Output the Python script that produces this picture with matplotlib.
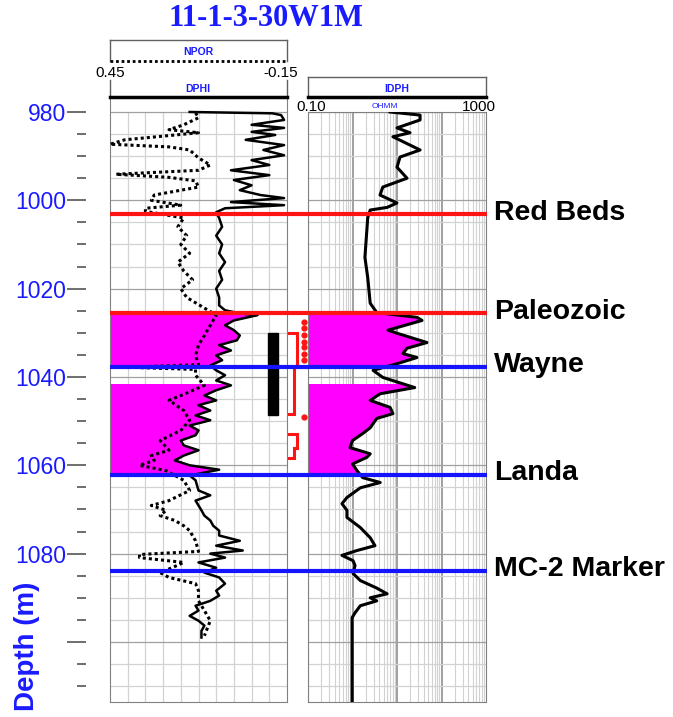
import numpy as np
import matplotlib
matplotlib.use('Agg')
import matplotlib.pyplot as plt
from matplotlib.patches import Rectangle
from matplotlib.ticker import NullLocator

plt.rcParams['font.family'] = ['Liberation Sans', 'DejaVu Sans']

well_name = '11-1-3-30W1M'

# density porosity DPHI (solid), fraction
dphi_depth = [980.0, 980.3, 980.7, 981.8, 982.9, 983.6, 984.5, 985.2, 986.3, 987.5,
              988.6, 989.8, 990.9, 992.0, 993.2, 994.3, 995.4, 996.6, 997.7, 998.8,
              999.5, 1000.4, 1001.1, 1001.8, 1002.7,
              1004, 1006, 1008, 1010, 1012, 1014, 1016, 1018, 1020, 1022,
              1023.8, 1024.9, 1025.6, 1026.0, 1027.2, 1028.3, 1029.4, 1030.6, 1031.7, 1032.8,
              1034.0, 1035.1, 1036.2, 1037.4, 1038.5, 1039.6, 1040.8, 1041.9, 1043.0, 1044.2,
              1045.3, 1046.4, 1047.6, 1048.7, 1049.8, 1051.0, 1052.1, 1053.2, 1054.4, 1055.5,
              1056.6, 1057.8, 1058.9, 1060.0, 1061.0, 1062.3, 1063.4, 1065.7, 1066.8,
              1068.0, 1069.1, 1070.2, 1071.4, 1072.5, 1073.7, 1074.8, 1075.9, 1077.1, 1078.2,
              1079.3, 1080.0, 1080.9, 1082.0, 1083.2, 1084.3, 1085.4, 1086.8, 1088.4, 1089.5,
              1090.7, 1091.8, 1092.9, 1094.1, 1095.2, 1096.3, 1097.5, 1099.0]
dphi = [0.18, -0.10, -0.13, -0.14, -0.03, -0.14, -0.03, -0.11, -0.01, -0.14,
        -0.07, -0.14, -0.03, -0.09, 0.04, -0.09, 0.03, -0.03, 0.01, -0.06,
        -0.14, 0.04, -0.14, 0.06, 0.09,
        0.08, 0.07, 0.09, 0.07, 0.08, 0.06, 0.08, 0.07, 0.09, 0.08,
        0.08, 0.06, 0.01, -0.05, 0.03, 0.06, 0.03, 0.01, 0.02, 0.08,
        0.04, 0.09, 0.07, 0.11, 0.09, 0.06, 0.09, 0.04, 0.09, 0.13,
        0.09, 0.15, 0.11, 0.16, 0.11, 0.18, 0.15, 0.16, 0.21, 0.20,
        0.15, 0.20, 0.23, 0.18, 0.08, 0.18, 0.16, 0.15, 0.11,
        0.16, 0.15, 0.14, 0.13, 0.11, 0.10, 0.08, 0.08, 0.01, 0.09,
        0.00, 0.11, 0.06, 0.15, 0.09, 0.13, 0.08, 0.06, 0.09, 0.08,
        0.11, 0.16, 0.15, 0.18, 0.15, 0.13, 0.14, 0.14]

# neutron porosity NPOR (dotted), fraction
npor_depth = [980.2, 981.3, 982.9, 984.0, 984.7, 986.3, 987.3, 987.9, 988.6, 990.4,
              992.0, 993.2, 994.1, 994.8, 995.6, 997.0, 998.8, 1000.0, 1001.1, 1001.8,
              1002.5,
              1004, 1006, 1008, 1010, 1012, 1014, 1016, 1018, 1020, 1022,
              1026.0, 1028.3, 1030.6, 1032.8, 1035.1, 1037.2, 1037.8, 1038.3, 1039.6, 1041.9,
              1044.2, 1045.3, 1047.6, 1049.8, 1052.1, 1054.4, 1056.6, 1057.8, 1058.9, 1060.0,
              1061.2, 1063.4, 1065.7,
              1068.0, 1069.1, 1070.2, 1071.4, 1072.5, 1073.7, 1074.8, 1077.1, 1079.5, 1080.2,
              1080.9, 1082.0, 1083.2, 1084.3, 1085.4, 1086.8, 1088.4, 1090.7, 1092.9, 1095.2,
              1098.6]
npor = [0.16, 0.15, 0.20, 0.25, 0.15, 0.40, 0.45, 0.25, 0.18, 0.15,
        0.11, 0.15, 0.43, 0.25, 0.16, 0.15, 0.30, 0.31, 0.21, 0.33,
        0.33,
        0.20, 0.22, 0.19, 0.21, 0.18, 0.22, 0.20, 0.17, 0.21, 0.19,
        0.09, 0.11, 0.13, 0.15, 0.16, 0.15, 0.39, 0.16, 0.16, 0.13,
        0.21, 0.25, 0.20, 0.18, 0.21, 0.28, 0.25, 0.31, 0.30, 0.35,
        0.26, 0.20, 0.18,
        0.25, 0.31, 0.26, 0.28, 0.23, 0.20, 0.18, 0.16, 0.15, 0.35,
        0.35, 0.20, 0.24, 0.28, 0.25, 0.16, 0.15, 0.15, 0.13, 0.11,
        0.13]

# deep induction resistivity IDPH, ohm.m
res_depth = [980.0, 980.7, 981.8, 983.6, 984.7, 985.6, 988.6, 990.2, 992.5, 995.0,
             997.0, 998.8, 1000.6, 1001.6, 1002.2, 1003.9, 1006.8, 1012.9, 1017.5, 1023.3,
             1025.4, 1026.5, 1027.2, 1029.4, 1030.1, 1032.2, 1033.5, 1034.7, 1035.6, 1037.0,
             1038.5, 1040.1, 1042.4, 1043.8, 1045.3, 1046.9, 1048.3, 1049.4, 1051.5, 1052.8,
             1054.4, 1056.0, 1057.4, 1058.2, 1059.7, 1061.2, 1062.8, 1063.9, 1065.1, 1067.3,
             1068.7, 1070.2, 1071.8, 1074.1, 1076.4, 1078.2, 1079.3, 1080.4, 1081.6, 1082.7,
             1084.5, 1086.1, 1087.8, 1089.1, 1090.0, 1090.7, 1091.8, 1093.4, 1094.5, 1113.6]
res = [7.0, 33, 33, 10, 19.6, 8.1, 33, 11.7, 10, 16.8,
       4.8, 4.15, 10, 6.0, 2.5, 2.2, 2.1, 1.9, 2.2, 2.5,
       3.5, 28, 36.5, 6.3, 10, 47, 16.8, 13.6, 28, 10,
       2.9, 4.8, 25, 4.2, 2.5, 7.0, 8.1, 3.5, 2.5, 1.7,
       1.0, 0.88, 2.5, 2.1, 1.0, 1.26, 1.7, 4.2, 1.5, 0.75,
       0.58, 0.75, 0.75, 1.5, 2.5, 3.2, 1.26, 0.58, 1.03, 1.14,
       1.03, 1.5, 3.5, 6.0, 2.5, 3.5, 1.5, 1.14, 0.98, 0.98]

# formation tops
tops_names = ['Red Beds', 'Paleozoic', 'Wayne', 'Landa', 'MC-2 Marker']
tops_depth = [1003.2, 1025.6, 1037.8, 1062.2, 1083.9]
tops_color = ['#ff1414', '#ff1414', '#1414ff', '#1414ff', '#1414ff']

# shaded zones (magenta)
zone_top = [1025.6, 1041.7]
zone_base = [1037.8, 1062.2]

# core / perforation / sample marks between the tracks
core_top, core_base = 1030.1, 1048.7
perf_top = [1030.0, 1052.9]
perf_jog = [1037.8, 1056.1]
perf_base = [1048.4, 1058.4]
sample_depths = [1027.6, 1029.0, 1030.6, 1032.1, 1033.3, 1034.7, 1036.2, 1049.1]

depth_major = [980, 1000, 1020, 1040, 1060, 1080, 1100]
depth_labels = ['980', '1000', '1020', '1040', '1060', '1080', '']

# ---- layout ----
W, H = 673, 717
BLUE = '#1a1aff'
MAGENTA = '#ff00ff'
LIGHT = '#d2d2d2'
DARK = '#a0a0a0'
D_TOP, D_BOT = 980.0, 1113.6
PX_PER_M = 4.42


def px_box(x0, y0, x1, y1):
    return [x0 / W, 1 - y1 / H, (x1 - x0) / W, (y1 - y0) / H]


fig = plt.figure(figsize=(W / 100, H / 100), dpi=100)

# overlay in pixel units for headers and titles
ov = fig.add_axes([0, 0, 1, 1])
ov.set_xlim(0, W)
ov.set_ylim(H, 0)
ov.axis('off')

ov.text(266, 19, well_name, ha='center', va='center', color=BLUE,
        fontsize=22, fontweight='bold', family='Liberation Serif')
ov.text(27, 646, 'Depth (m)', rotation=90, ha='center', va='center',
        color=BLUE, fontsize=20, fontweight='bold')

# left header (NPOR / DPHI)
hdr = dict(color='#606060', lw=1)
ov.plot([110, 287], [40, 40], **hdr)
ov.plot([110, 110], [40, 61], **hdr)
ov.plot([287, 287], [40, 61], **hdr)
ov.plot([110, 287], [61, 61], color='black', lw=2, ls=(0, (1, 1)))
ov.text(198, 52, 'NPOR', ha='center', va='center', color=BLUE, fontsize=7.5, fontweight='bold')
ov.text(110, 73, '0.45', ha='center', va='center', fontsize=11)
ov.text(281, 73, '-0.15', ha='center', va='center', fontsize=11)
ov.plot([110, 110], [80, 97], **hdr)
ov.plot([287, 287], [80, 97], **hdr)
ov.text(198, 89, 'DPHI', ha='center', va='center', color=BLUE, fontsize=7.5, fontweight='bold')

# right header (IDPH)
ov.plot([308, 486], [77, 77], **hdr)
ov.plot([308, 308], [77, 97], **hdr)
ov.plot([486, 486], [77, 97], **hdr)
ov.plot([308, 486], [97, 97], color='black', lw=2.5)
ov.text(397, 89, 'IDPH', ha='center', va='center', color=BLUE, fontsize=7.5, fontweight='bold')
ov.text(311, 107, '0.10', ha='center', va='center', fontsize=11)
ov.text(479, 107, '1000', ha='center', va='center', fontsize=11)
ov.text(385, 106, 'OHMM', ha='center', va='center', color=BLUE, fontsize=6)


def depth_grid(ax, x0, x1):
    for d in range(980, 1114, 5):
        ax.hlines(d, x0, x1, color=DARK if d % 20 == 0 else LIGHT, lw=0.9, zorder=0)


def clear_ticks(ax):
    for a in (ax.xaxis, ax.yaxis):
        a.set_major_locator(NullLocator())
        a.set_minor_locator(NullLocator())


# ---- porosity track ----
axl = fig.add_axes(px_box(110, 97, 287, 702))
axl.set_xlim(0.45, -0.15)
axl.set_ylim(D_BOT, D_TOP - 15 / PX_PER_M)
clear_ticks(axl)
for s in ('left', 'right', 'bottom'):
    axl.spines[s].set_color('#808080')
axl.spines['top'].set_color('black')
axl.spines['top'].set_linewidth(2.5)
for i in range(1, 10):
    axl.vlines(0.45 - 0.06 * i, D_TOP, D_BOT, color=LIGHT, lw=0.9, zorder=0)
depth_grid(axl, 0.45, -0.15)

for t, b in zip(zone_top, zone_base):
    f = axl.fill_betweenx(dphi_depth, 0.45, dphi, color=MAGENTA, lw=0, zorder=1)
    f.set_clip_path(Rectangle((-0.15, t), 0.6, b - t, transform=axl.transData))
axl.plot(npor, npor_depth, color='black', lw=2.2, ls=(0, (1, 1)), zorder=3)
axl.plot(dphi, dphi_depth, color='black', lw=1.8, zorder=3)

# ---- resistivity track ----
axr = fig.add_axes(px_box(308, 112, 486, 702))
axr.set_xscale('log')
axr.set_xlim(0.1, 1000)
axr.set_ylim(D_BOT, D_TOP)
clear_ticks(axr)
for s in axr.spines.values():
    s.set_color('#808080')
for dec in (0.1, 1, 10, 100):
    for k in range(1, 10):
        if k == 1 and dec > 0.1:
            axr.vlines(dec, D_TOP, D_BOT, color=DARK, lw=1.4, zorder=0)
        else:
            axr.vlines(dec * k, D_TOP, D_BOT, color=LIGHT, lw=0.8, zorder=0)
depth_grid(axr, 0.1, 1000)

for t, b in zip(zone_top, zone_base):
    f = axr.fill_betweenx(res_depth, 0.1, res, color=MAGENTA, lw=0, zorder=1)
    f.set_clip_path(Rectangle((0.1, t), 999.9, b - t, transform=axr.transData))
axr.plot(res, res_depth, color='black', lw=2.2, zorder=3)

# ---- depth scale ----
axd = fig.add_axes(px_box(86, 112, 87, 702))
axd.set_ylim(D_BOT, D_TOP)
for s in axd.spines.values():
    s.set_visible(False)
axd.set_xticks([])
axd.set_yticks(depth_major)
axd.set_yticklabels(depth_labels)
axd.set_yticks([d for d in range(985, 1114, 5) if d not in depth_major], minor=True)
axd.tick_params(axis='y', which='major', length=13.5, width=1.2, color='#555555',
                pad=1, labelcolor=BLUE, labelsize=16.5)
axd.tick_params(axis='y', which='minor', length=6.5, width=1.2, color='#555555')

# ---- formation tops and marks over both tracks ----
axs = fig.add_axes(px_box(110, 112, 487, 702))
axs.set_xlim(110, 487)
axs.set_ylim(D_BOT, D_TOP)
axs.axis('off')

axs.add_patch(Rectangle((268, core_top), 10, core_base - core_top, color='black', zorder=2))
for t, j, b in zip(perf_top, perf_jog, perf_base):
    axs.plot([289, 297, 297, 294, 294, 289], [t, t, j, j, b, b],
             color='#ff1414', lw=2.2, solid_joinstyle='miter', zorder=2)
axs.plot([304] * len(sample_depths), sample_depths, 'o', color='#ff1414',
         ms=3.5, ls='none', zorder=2)

for name, d, c in zip(tops_names, tops_depth, tops_color):
    axs.hlines(d, 110, 487, color=c, lw=3, zorder=3)
    axs.text(494, d - 0.4, name, ha='left', va='center', fontsize=20.5,
             fontweight='bold', clip_on=False)

fig.savefig('out.png', dpi=100)
